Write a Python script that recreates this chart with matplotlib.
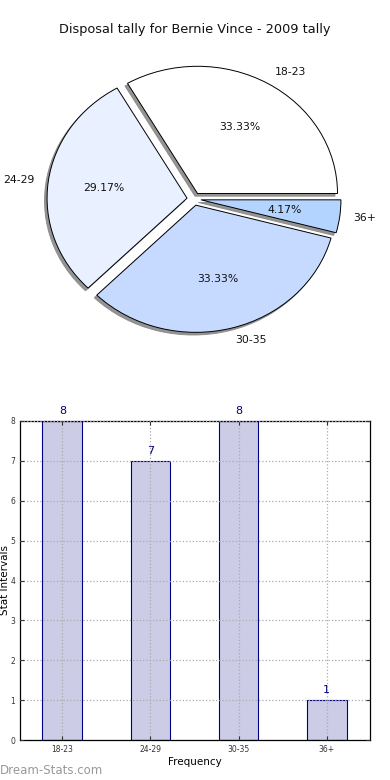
import matplotlib
matplotlib.use("Agg")
import matplotlib.pyplot as plt

categories = ["18-23", "24-29", "30-35", "36+"]
counts = [8, 7, 8, 1]
pie_colors = ["#ffffff", "#e9f0ff", "#c6d9ff", "#b3d4ff"]
title = "Disposal tally for Bernie Vince - 2009 tally"

fig = plt.figure(figsize=(3.9, 7.8), dpi=100)

# Pie
axp = fig.add_axes([19/390, 1-358/780, 350/390, 318/780])
wedges, texts, autotexts = axp.pie(
    counts, labels=categories, colors=pie_colors, explode=[0.05]*4,
    autopct="%1.2f%%",
    shadow=dict(ox=-0.013, oy=-0.015, facecolor="#888888", edgecolor="#888888", alpha=0.9),
    startangle=0, counterclock=True,
    wedgeprops=dict(edgecolor="black", linewidth=0.7),
    textprops=dict(fontsize=7.8, color="#111111"))
axp.set_aspect("auto")
axp.set_xlim(-1.25, 1.25)
axp.set_ylim(-1.25, 1.25)
axp.axis("off")
fig.text(0.5, 1-30/780, title, ha="center", va="center", fontsize=9.3, color="#111111")

# Bars
axb = fig.add_axes([20/390, 1-740/780, 350/390, 319/780])
x = list(range(len(categories)))
bars = axb.bar(x, counts, width=0.45, color="#ccccE6", edgecolor="#000080", linewidth=0.8, zorder=2)
for xi, c in zip(x, counts):
    axb.text(xi, c + 0.12, str(c), ha="center", va="bottom", fontsize=8, color="#000080")
axb.set_xlim(-0.48, 3.49)
axb.set_ylim(0, 8)
axb.set_xticks(x)
axb.set_xticklabels(categories)
axb.set_yticks(range(0, 9))
axb.tick_params(labelsize=5.5, direction="in", length=3, top=True, right=True, colors="#333333")
axb.grid(True, linestyle=":", color="#aaaaaa", linewidth=0.9, zorder=3)
axb.set_axisbelow(False)
for s in axb.spines.values():
    s.set_linewidth(0.9)
axb.set_xlabel("Frequency", fontsize=7.5, labelpad=2)
fig.text(5/390, 1-580/780, "Stat Intervals", rotation=90, ha="center", va="center", fontsize=7.5)
fig.text(0, 1-770/780, "Dream-Stats.com", ha="left", va="center", fontsize=8.5, color="#999999")

fig.savefig("out.png", dpi=100)
